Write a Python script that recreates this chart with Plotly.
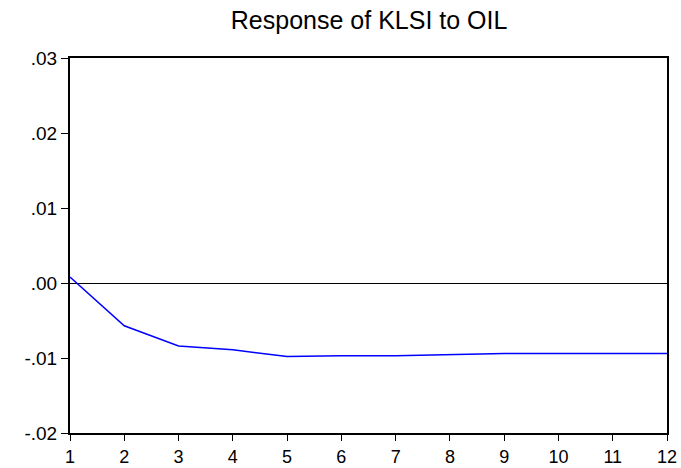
import plotly.graph_objects as go

periods = list(range(1, 13))
response = [0.0008, -0.0057, -0.0084, -0.0089, -0.0098, -0.0097,
            -0.0097, -0.0095, -0.0094, -0.0094, -0.0094, -0.0094]
y_tickvals = [0.03, 0.02, 0.01, 0.0, -0.01, -0.02]
y_ticktext = [".03", ".02", ".01", ".00", "-.01", "-.02"]
title_text = "Response of KLSI to OIL"

fig = go.Figure()
fig.add_trace(go.Scatter(x=periods, y=response, mode="lines",
                         line=dict(color="#0000ff", width=1.5),
                         showlegend=False, hoverinfo="skip"))

fig.update_layout(
    width=681, height=468,
    margin=dict(l=70, r=14, t=58, b=35, autoexpand=False),
    paper_bgcolor="white", plot_bgcolor="white",
    font=dict(family="Liberation Sans, Arial, sans-serif", color="black"),
    title=dict(text=title_text, x=0.542, xanchor="center", y=0.957, yanchor="middle",
               font=dict(size=25, family="Liberation Sans, Arial, sans-serif")),
    xaxis=dict(range=[1, 12], tickvals=periods, ticktext=[str(p) for p in periods],
               showgrid=False, zeroline=False, automargin=False,
               showline=True, linecolor="black", linewidth=2, mirror=True,
               ticks="outside", ticklen=6, tickwidth=1, tickcolor="black",
               tickfont=dict(size=18)),
    yaxis=dict(range=[-0.02, 0.03], tickvals=y_tickvals, ticktext=y_ticktext,
               showgrid=False, zeroline=True, zerolinecolor="black", zerolinewidth=1,
               automargin=False,
               showline=True, linecolor="black", linewidth=2, mirror=True,
               ticks="outside", ticklen=7, tickwidth=1, tickcolor="black",
               tickfont=dict(size=19)),
)

fig.write_html("out.html")
